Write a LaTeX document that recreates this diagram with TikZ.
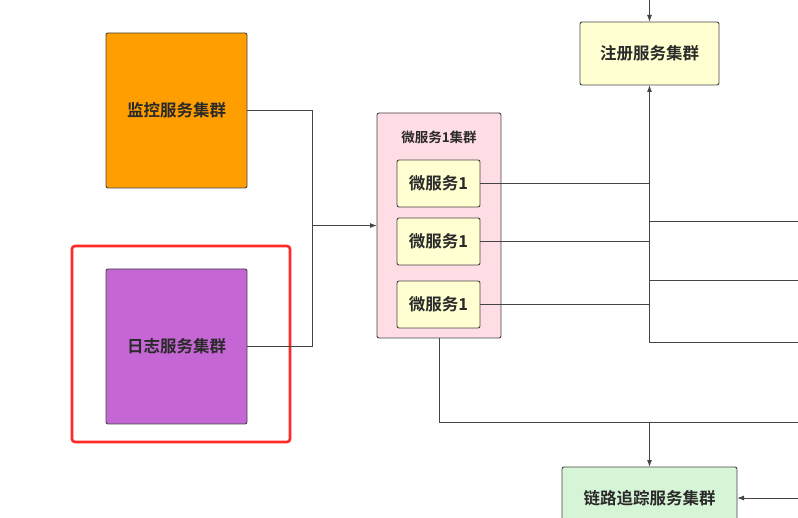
\documentclass[tikz,border=0pt]{standalone}
\usepackage{fontspec}
\newfontfamily\cjk{Noto Sans CJK SC}[BoldFont={Noto Sans CJK SC Bold}]
\usetikzlibrary{arrows.meta,positioning,calc}
\definecolor{edgegray}{HTML}{444444}
\definecolor{txtgray}{HTML}{2A2A2A}
\definecolor{monorange}{HTML}{FF9E00}
\definecolor{logpurple}{HTML}{C466D4}
\definecolor{clupink}{HTML}{FFDDE5}
\definecolor{svcyellow}{HTML}{FFFFD2}
\definecolor{tracegreen}{HTML}{D6F5D6}
\definecolor{markred}{HTML}{FF2A2A}
\tikzset{
clusterbox/.style={draw=edgegray, line width=0.9pt, rounded corners=2pt, align=center, inner sep=0pt, outer sep=0pt, text=txtgray, font=\cjk\bfseries\fontsize{16.5}{19}\selectfont},
svcbox/.style={clusterbox, fill=svcyellow, minimum width=83pt, minimum height=47pt},
linkline/.style={draw=edgegray, line width=1pt},
linkarrow/.style={linkline, -{Latex[length=7pt,width=5pt]}},
markframe/.style={draw=markred, line width=2.6pt, rounded corners=3pt}
}
\begin{document}
\begin{tikzpicture}[x=1pt,y=-1pt]
\useasboundingbox (0,0) rectangle (798,518);
\clip (0,0) rectangle (798,518);
\fill[white] (0,0) rectangle (798,518);

% left clusters
\node[clusterbox, fill=monorange, minimum width=141pt, minimum height=155pt] (mon) at (176.5,110.5) {监控服务集群};
\node[clusterbox, fill=logpurple, minimum width=141pt, minimum height=155pt] (log) at (176.5,346.5) {日志服务集群};
\draw[markframe] (72,246) rectangle (290,442);

% microservice cluster
\node[clusterbox, fill=clupink, minimum width=124pt, minimum height=225pt] (clu) at (439,225.5) {};
\node[font=\cjk\bfseries\fontsize{13.5}{16}\selectfont, text=txtgray, inner sep=0pt] (clutitle) at (439,137) {微服务1集群};
\node[svcbox] (ms1) at (438.5,183.5) {微服务1};
\node[svcbox] (ms2) at (438.5,241.5) {微服务1};
\node[svcbox] (ms3) at (438.5,304.5) {微服务1};

% registry and tracing
\node[clusterbox, fill=svcyellow, minimum width=139pt, minimum height=63pt] (reg) at (649.5,53.5) {注册服务集群};
\node[clusterbox, fill=tracegreen, minimum width=175pt, minimum height=62pt] (trace) at (649.5,498) {链路追踪服务集群};

% free ends
\coordinate (join) at (312,225.5);
\coordinate (bus) at (649.5,343);
\coordinate (topin) at (649.5,-5);
\coordinate (out1) at (805,222);
\coordinate (out2) at (805,281);
\coordinate (out3) at (805,343);
\coordinate (tbus) at (805,423);
\coordinate (tin) at (805,498);

% connectors
\draw[linkline] (mon.east) -| (join);
\draw[linkline] (log.east) -| (join);
\draw[linkarrow] (join) -- (clu.west);
\foreach \s in {ms1,ms2,ms3}
  \draw[linkline] (\s.east) -- (\s.east -| bus);
\draw[linkarrow] (bus) -- (reg.south);
\draw[linkarrow] (topin) -- (reg.north);
\draw[linkline] (out1 -| bus) -- (out1);
\draw[linkline] (out2 -| bus) -- (out2);
\draw[linkline] (bus) -- (out3);
\draw[linkline] (clu.south) |- (tbus);
\draw[linkarrow] (trace.north |- tbus) -- (trace.north);
\draw[linkarrow] (tin) -- (trace.east);
\end{tikzpicture}
\end{document}
